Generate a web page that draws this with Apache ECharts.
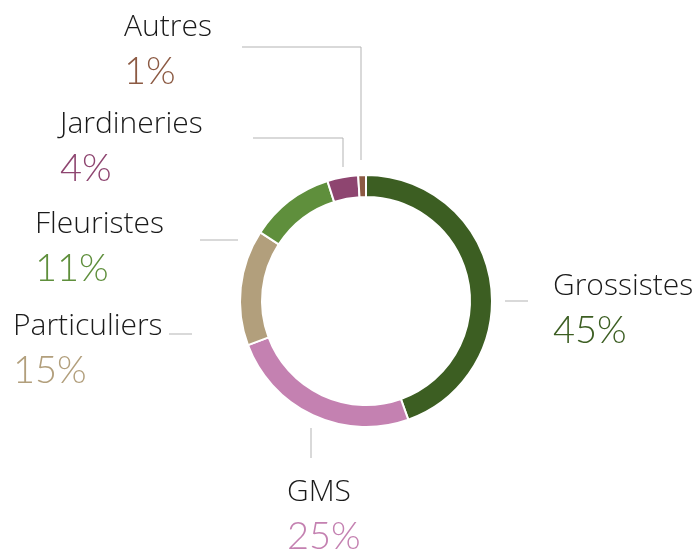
<!DOCTYPE html>
<html>
<head>
<meta charset="utf-8">
<script src="https://cdn.jsdelivr.net/npm/echarts@6/dist/echarts.min.js"></script>
<style>
  html, body { margin: 0; padding: 0; background: #fff; }
  #chart { width: 700px; height: 551px; }
</style>
</head>
<body>
<div id="chart"></div>
<script>
// données du graphique
var categories = ['Grossistes', 'GMS', 'Particuliers', 'Fleuristes', 'Jardineries', 'Autres'];
var values = [45, 25, 15, 11, 4, 1];
var colors = ['#3c5e22', '#c481b1', '#b29f7c', '#5f8f3c', '#8e4570', '#8c5a43'];

// position des étiquettes (x gauche, y haut) et tracé des traits de rappel
var labelPos = [
  { x: 553, y: 266, line: [[505, 301], [528, 301]] },
  { x: 287, y: 472, line: [[311, 428], [311, 458]] },
  { x: 13, y: 306, line: [[192, 334], [169, 334]] },
  { x: 35, y: 204, line: [[238, 240], [200, 240]] },
  { x: 60, y: 104, line: [[343, 167], [343, 138], [253, 138]] },
  { x: 124, y: 7, line: [[361, 160], [361, 47], [242, 47]] }
];

var chart = echarts.init(document.getElementById('chart'));

var data = categories.map(function (name, i) {
  return {
    name: name,
    value: values[i],
    itemStyle: { color: colors[i] },
    label: {
      rich: {
        p: { color: colors[i] }
      }
    }
  };
});

var option = {
  animation: false,
  series: [{
    type: 'pie',
    center: [366, 301],
    radius: [104, 126],
    startAngle: 90,
    clockwise: true,
    itemStyle: { borderColor: '#fff', borderWidth: 2 },
    label: {
      show: true,
      position: 'outside',
      formatter: function (p) {
        return '{n|' + p.name + '}\n{p|' + p.value + '%}';
      },
      rich: {
        n: { fontFamily: 'Open Sans', fontWeight: 300, fontSize: 30, lineHeight: 40, color: '#1a1a1a' },
        p: { fontFamily: 'Lato', fontWeight: 300, fontSize: 38, lineHeight: 50 }
      }
    },
    labelLine: {
      show: true,
      lineStyle: { color: '#b3b3b3', width: 1 }
    },
    labelLayout: function (params) {
      var l = labelPos[params.dataIndex];
      return {
        x: l.x,
        y: l.y,
        align: 'left',
        verticalAlign: 'top',
        labelLinePoints: l.line
      };
    },
    data: data
  }]
};

chart.setOption(option);
</script>
</body>
</html>
